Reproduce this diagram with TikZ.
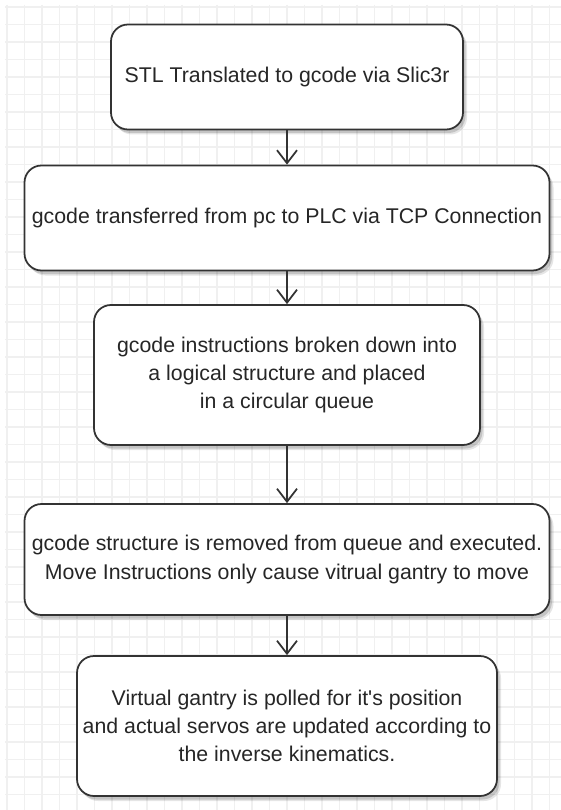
\documentclass[tikz,border=0pt]{standalone}
\usepackage{fontspec}
\setmainfont{Liberation Sans}
\usetikzlibrary{arrows.meta,shadows}
\definecolor{edgegray}{HTML}{333333}
\definecolor{textgray}{HTML}{262626}
\definecolor{gridgray}{HTML}{F0F0F0}
\tikzset{
  stepbox/.style={draw=edgegray, line width=1.75pt, rounded corners=17pt,
    fill=white, inner sep=0pt, align=center, text=textgray,
    font=\fontsize{21.3}{28.3}\selectfont,
    general shadow={fill=black, opacity=.10, shadow xshift=4pt, shadow yshift=-5pt},
    general shadow={fill=black, opacity=.14, shadow xshift=2.5pt, shadow yshift=-3.5pt}},
  flow/.style={draw=edgegray, line width=1.75pt,
    -{Straight Barb[length=13pt,width=20pt,line width=1.75pt]}},
  gridline/.style={draw=gridgray, line width=1.5pt}
}
\begin{document}
\begin{tikzpicture}[x=1pt, y=-1pt]
  \useasboundingbox[fill=white] (0,0) rectangle (561,810);
  % background grid, 17.5 units apart
  \foreach \k in {0,...,31}
    \draw[gridline] ({7+17.5*\k},5) -- ({7+17.5*\k},810);
  \foreach \k in {0,...,45}
    \draw[gridline] (5,{7+17.5*\k}) -- (561,{7+17.5*\k});

  % process steps
  \node[stepbox, minimum width=352pt, minimum height=105pt] (b1) at (287,77)
    {STL Translated to gcode via Slic3r};
  \node[stepbox, minimum width=525pt, minimum height=105pt] (b2) at (287,218)
    {gcode transferred from pc to PLC via TCP Connection};
  \node[stepbox, minimum width=386pt, minimum height=140pt] (b3) at (287,375)
    {gcode instructions broken down into\\a logical structure and placed\\in a circular queue};
  \node[stepbox, minimum width=525pt, minimum height=111pt] (b4) at (287,559.5)
    {gcode structure is removed from queue and executed.\\Move Instructions only cause vitrual gantry to move};
  \node[stepbox, minimum width=420pt, minimum height=140pt] (b5) at (287,726)
    {Virtual gantry is polled for it\textquotesingle s position\\and actual servos are updated according to\\the inverse kinematics.};

  % flow arrows
  \draw[flow] (b1.south) -- (b2.north);
  \draw[flow] (b2.south) -- (b3.north);
  \draw[flow] (b3.south) -- (b4.north);
  \draw[flow] (b4.south) -- (b5.north);
\end{tikzpicture}
\end{document}
